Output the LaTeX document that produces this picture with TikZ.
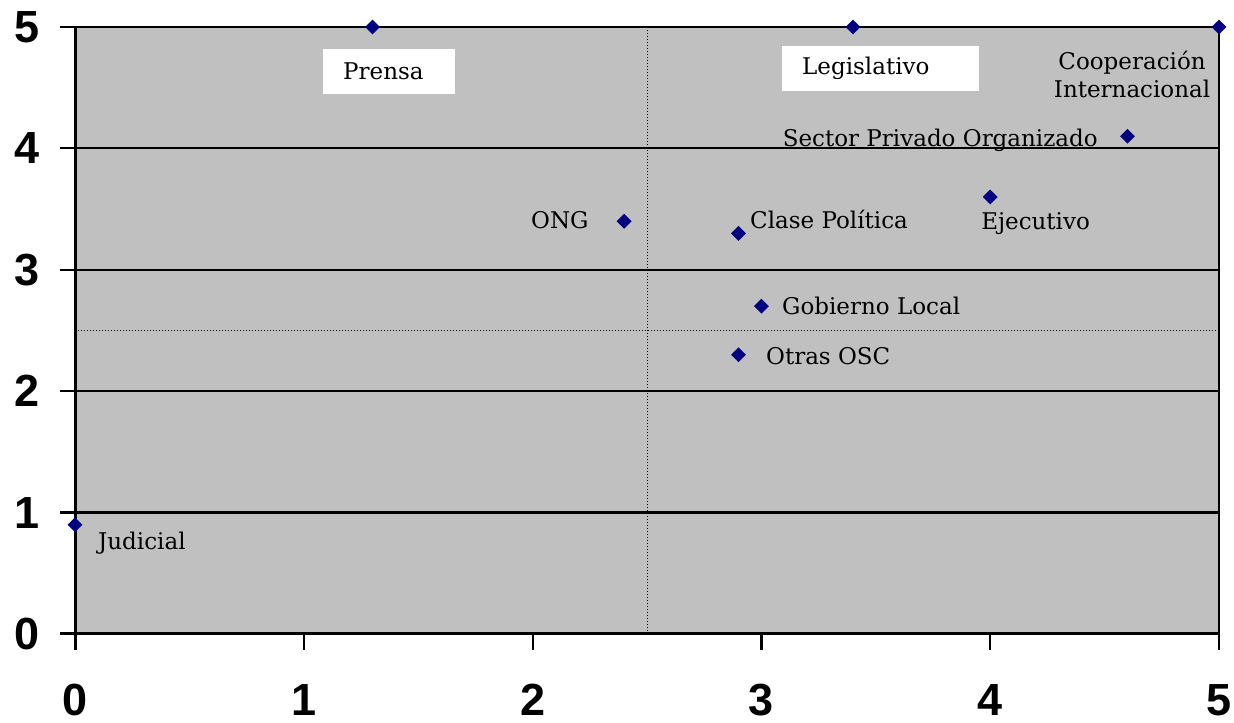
\documentclass[tikz,border=0pt]{standalone}
\usepackage{fontspec}
\setmainfont{DejaVu Serif}
\newfontfamily\axisfont{Liberation Sans}
\usetikzlibrary{shapes.geometric}
\definecolor{plotgray}{RGB}{192,192,192}
\definecolor{navymark}{RGB}{0,0,128}
\begin{document}
\begin{tikzpicture}[x=228.8pt,y=121.4pt,
  mk/.style={diamond, fill=navymark, inner sep=0pt, minimum size=15pt},
  lbl/.style={font=\fontsize{23}{29}\selectfont, inner sep=0pt, text=black},
  boxlbl/.style={lbl, fill=white, anchor=north west, inner xsep=20pt, inner ysep=0pt, minimum height=45pt, align=left},
  ax/.style={font=\axisfont\bfseries\fontsize{45}{45}\selectfont, inner sep=0pt},
  gridline/.style={line width=2.2pt},
  axisline/.style={line width=3pt},
  refline/.style={dotted, line width=1pt}
  ]
\useasboundingbox (-0.3278,-0.7331) rectangle (5.0656,5.2224);
\fill[plotgray] (0,0) rectangle (5,5);
% reference lines
\draw[refline] (2.5,0) -- (2.5,5);
\draw[refline] (0,2.5) -- (5,2.5);
% gridlines with ticks
\foreach \y in {1,2,3,4,5} {
  \draw[gridline] ([xshift=-15pt]0,\y) -- (5,\y);
}
\draw[axisline] ([xshift=-15pt]0,0) -- (5,0);
\draw[gridline] (5,0) -- (5,5);
\draw[axisline] ([yshift=-16pt]0,0) -- (0,5);
\foreach \x in {1,2,3,4,5} {
  \draw[gridline] (\x,0) -- ([yshift=-16pt]\x,0);
}
% axis labels
\foreach \v in {0,1,2,3,4,5} {
  \node[ax] (ylab\v) at ([xshift=-48pt]0,\v) {\v};
  \node[ax] (xlab\v) at ([yshift=-66pt]\v,0) {\v};
}
% markers
\node[mk] (prensa) at (1.3,5) {};
\node[mk] (legis) at (3.4,5) {};
\node[mk] (coop) at (5,5) {};
\node[mk] (spo) at (4.6,4.1) {};
\node[mk] (ejec) at (4,3.6) {};
\node[mk] (ong) at (2.4,3.4) {};
\node[mk] (clase) at (2.9,3.3) {};
\node[mk] (gob) at (3,2.7) {};
\node[mk] (otras) at (2.9,2.3) {};
\node[mk] (judicial) at (0,0.9) {};
% labels
\node[boxlbl, text width=92pt] (prensaL) at (1.084,4.819) {Prensa};
\node[boxlbl, text width=157pt] (legisL) at (3.090,4.844) {Legislativo};
\node[lbl, align=center] (coopL) at (4.620,4.609) {Cooperación\\Internacional};
\node[lbl, anchor=base east] (spoL) at (4.471,4.012) {Sector Privado Organizado};
\node[lbl, anchor=base west] (ejecL) at (3.960,3.328) {Ejecutivo};
\node[lbl, anchor=base west] (ongL) at (1.993,3.344) {ONG};
\node[lbl, anchor=base west] (claseL) at (2.950,3.344) {Clase Política};
\node[lbl, anchor=base west] (gobL) at (3.090,2.628) {Gobierno Local};
\node[lbl, anchor=base west] (otrasL) at (3.020,2.216) {Otras OSC};
\node[lbl, anchor=base west] (judL) at (0.1005,0.692) {Judicial};
\end{tikzpicture}
\end{document}
